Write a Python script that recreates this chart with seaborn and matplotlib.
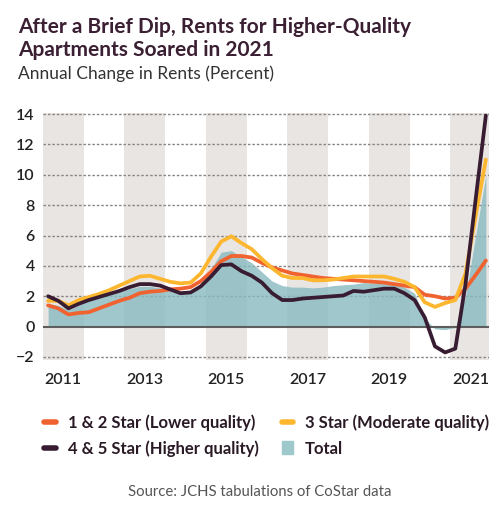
import numpy as np
import pandas as pd
import seaborn as sns
import matplotlib.pyplot as plt
from matplotlib.lines import Line2D
from matplotlib.patches import Patch

# quarterly annual change in rents, 2011Q1 - 2021Q4
quarters = pd.period_range("2011Q1", "2021Q4", freq="Q")

low_quality = [1.4, 1.2, 0.8, 0.9, 0.95, 1.2, 1.45, 1.7, 1.9, 2.2, 2.3, 2.35,
               2.45, 2.5, 2.6, 3.0, 3.6, 4.3, 4.65, 4.65, 4.55, 4.2, 3.9, 3.7,
               3.5, 3.4, 3.3, 3.2, 3.15, 3.1, 3.05, 3.0, 2.95, 2.9, 2.8, 2.7,
               2.6, 2.1, 2.0, 1.85, 1.9, 2.5, 3.4, 4.35]
mid_quality = [1.7, 1.7, 1.4, 1.75, 1.95, 2.15, 2.4, 2.7, 3.0, 3.3, 3.35, 3.15,
               2.95, 2.85, 2.9, 3.5, 4.6, 5.6, 5.95, 5.5, 5.1, 4.45, 3.85, 3.35,
               3.2, 3.2, 3.05, 3.05, 3.1, 3.2, 3.3, 3.3, 3.3, 3.3, 3.15, 2.95,
               2.6, 1.6, 1.3, 1.55, 1.75, 3.5, 7.3, 11.0]
high_quality = [2.0, 1.7, 1.2, 1.5, 1.75, 1.95, 2.15, 2.35, 2.6, 2.8, 2.8, 2.7,
                2.45, 2.2, 2.25, 2.65, 3.3, 4.05, 4.1, 3.65, 3.35, 2.9, 2.2, 1.75,
                1.75, 1.85, 1.9, 1.95, 2.0, 2.05, 2.35, 2.3, 2.4, 2.5, 2.5, 2.2,
                1.75, 0.6, -1.3, -1.7, -1.45, 2.8, 8.4, 13.9]
total = [1.5, 1.4, 1.1, 1.4, 1.7, 1.9, 2.1, 2.3, 2.5, 2.65, 2.65, 2.55,
         2.4, 2.3, 2.4, 2.8, 3.8, 4.9, 5.0, 4.6, 4.2, 3.6, 3.0, 2.7,
         2.6, 2.6, 2.55, 2.6, 2.7, 2.75, 2.8, 2.9, 2.85, 2.85, 2.75, 2.6,
         2.2, 0.55, -0.15, -0.2, -0.05, 2.0, 6.0, 10.0]

series_names = ["1 & 2 Star (Lower quality)", "3 Star (Moderate quality)",
                "4 & 5 Star (Higher quality)"]
series_colors = ["#f0622f", "#fdb72f", "#381c32"]
year_ticks = [2011, 2013, 2015, 2017, 2019, 2021]
y_ticks = [-2, 0, 2, 4, 6, 8, 10, 12, 14]

t = quarters.year + (quarters.quarter - 1) / 4 + 0.125
df = pd.DataFrame({"t": t, series_names[0]: low_quality,
                   series_names[1]: mid_quality, series_names[2]: high_quality})
long = df.melt(id_vars="t", var_name="series", value_name="change")

sns.set_theme(style="white")
plt.rcParams["font.family"] = ["Lato", "DejaVu Sans"]

fig = plt.figure(figsize=(5.03, 5.08), dpi=100)
ax = fig.add_axes([0.0855, 0.2913, 0.8865, 0.4872])

# shaded odd years
for yr in year_ticks:
    ax.axvspan(yr, yr + 1, color="#e9e5e2", lw=0, zorder=0)

# dotted gridlines
for v in y_ticks:
    if v != 0:
        ax.axhline(v, color="#858585", lw=1.0, ls=(0, (1.8, 1.4)), zorder=1.5)

ax.fill_between(df["t"], 0, total, color="#88bac0", alpha=0.8, lw=0, zorder=2)
ax.axhline(0, color="#5e5e5e", lw=1.5, zorder=3)

sns.lineplot(data=long, x="t", y="change", hue="series", hue_order=series_names,
             palette=series_colors, lw=2.7, legend=False, ax=ax, zorder=4)

ax.set_xlim(2011, 2021.95)
ax.set_ylim(-2.2, 14.1)
ax.set_xticks([y + 0.5 for y in year_ticks])
ax.set_xticklabels([str(y) for y in year_ticks])
ax.set_yticks(y_ticks)
ax.grid(False)

ax.tick_params(axis="both", length=0, labelsize=11.5, colors="#222222")
ax.tick_params(axis="x", pad=9)
ax.tick_params(axis="y", pad=6)
for lab in ax.get_xticklabels() + ax.get_yticklabels():
    lab.set_fontweight("semibold")
ax.set_xlabel("")
ax.set_ylabel("")
sns.despine(ax=ax, left=True, bottom=True)

fig.text(0.036, 0.966, "After a Brief Dip, Rents for Higher-Quality\nApartments Soared in 2021",
         fontsize=15, fontweight="bold", color="#3b1f33", va="top", ha="left",
         linespacing=1.15)
fig.text(0.036, 0.855, "Annual Change in Rents (Percent)", fontsize=12.5,
         color="#333333", va="center", ha="left")

handles = [Line2D([], [], color=series_colors[0], lw=4),
           Line2D([], [], color=series_colors[2], lw=4),
           Line2D([], [], color=series_colors[1], lw=4),
           Patch(color="#9ec8cc")]
labels = [series_names[0], series_names[2], series_names[1], "Total"]
leg = fig.legend(handles, labels, ncol=2, loc="upper left",
                 bbox_to_anchor=(0.058, 0.213), frameon=False, handlelength=0.7,
                 handleheight=0.8, handletextpad=0.7, columnspacing=1.4,
                 labelspacing=0.55, prop={"size": 12, "weight": "bold"})
for txt in leg.get_texts():
    txt.set_color("#2a1a26")

fig.text(0.517, 0.032, "Source: JCHS tabulations of CoStar data", fontsize=10.7,
         color="#555555", ha="center", va="center")

fig.savefig("out.png", dpi=100)
